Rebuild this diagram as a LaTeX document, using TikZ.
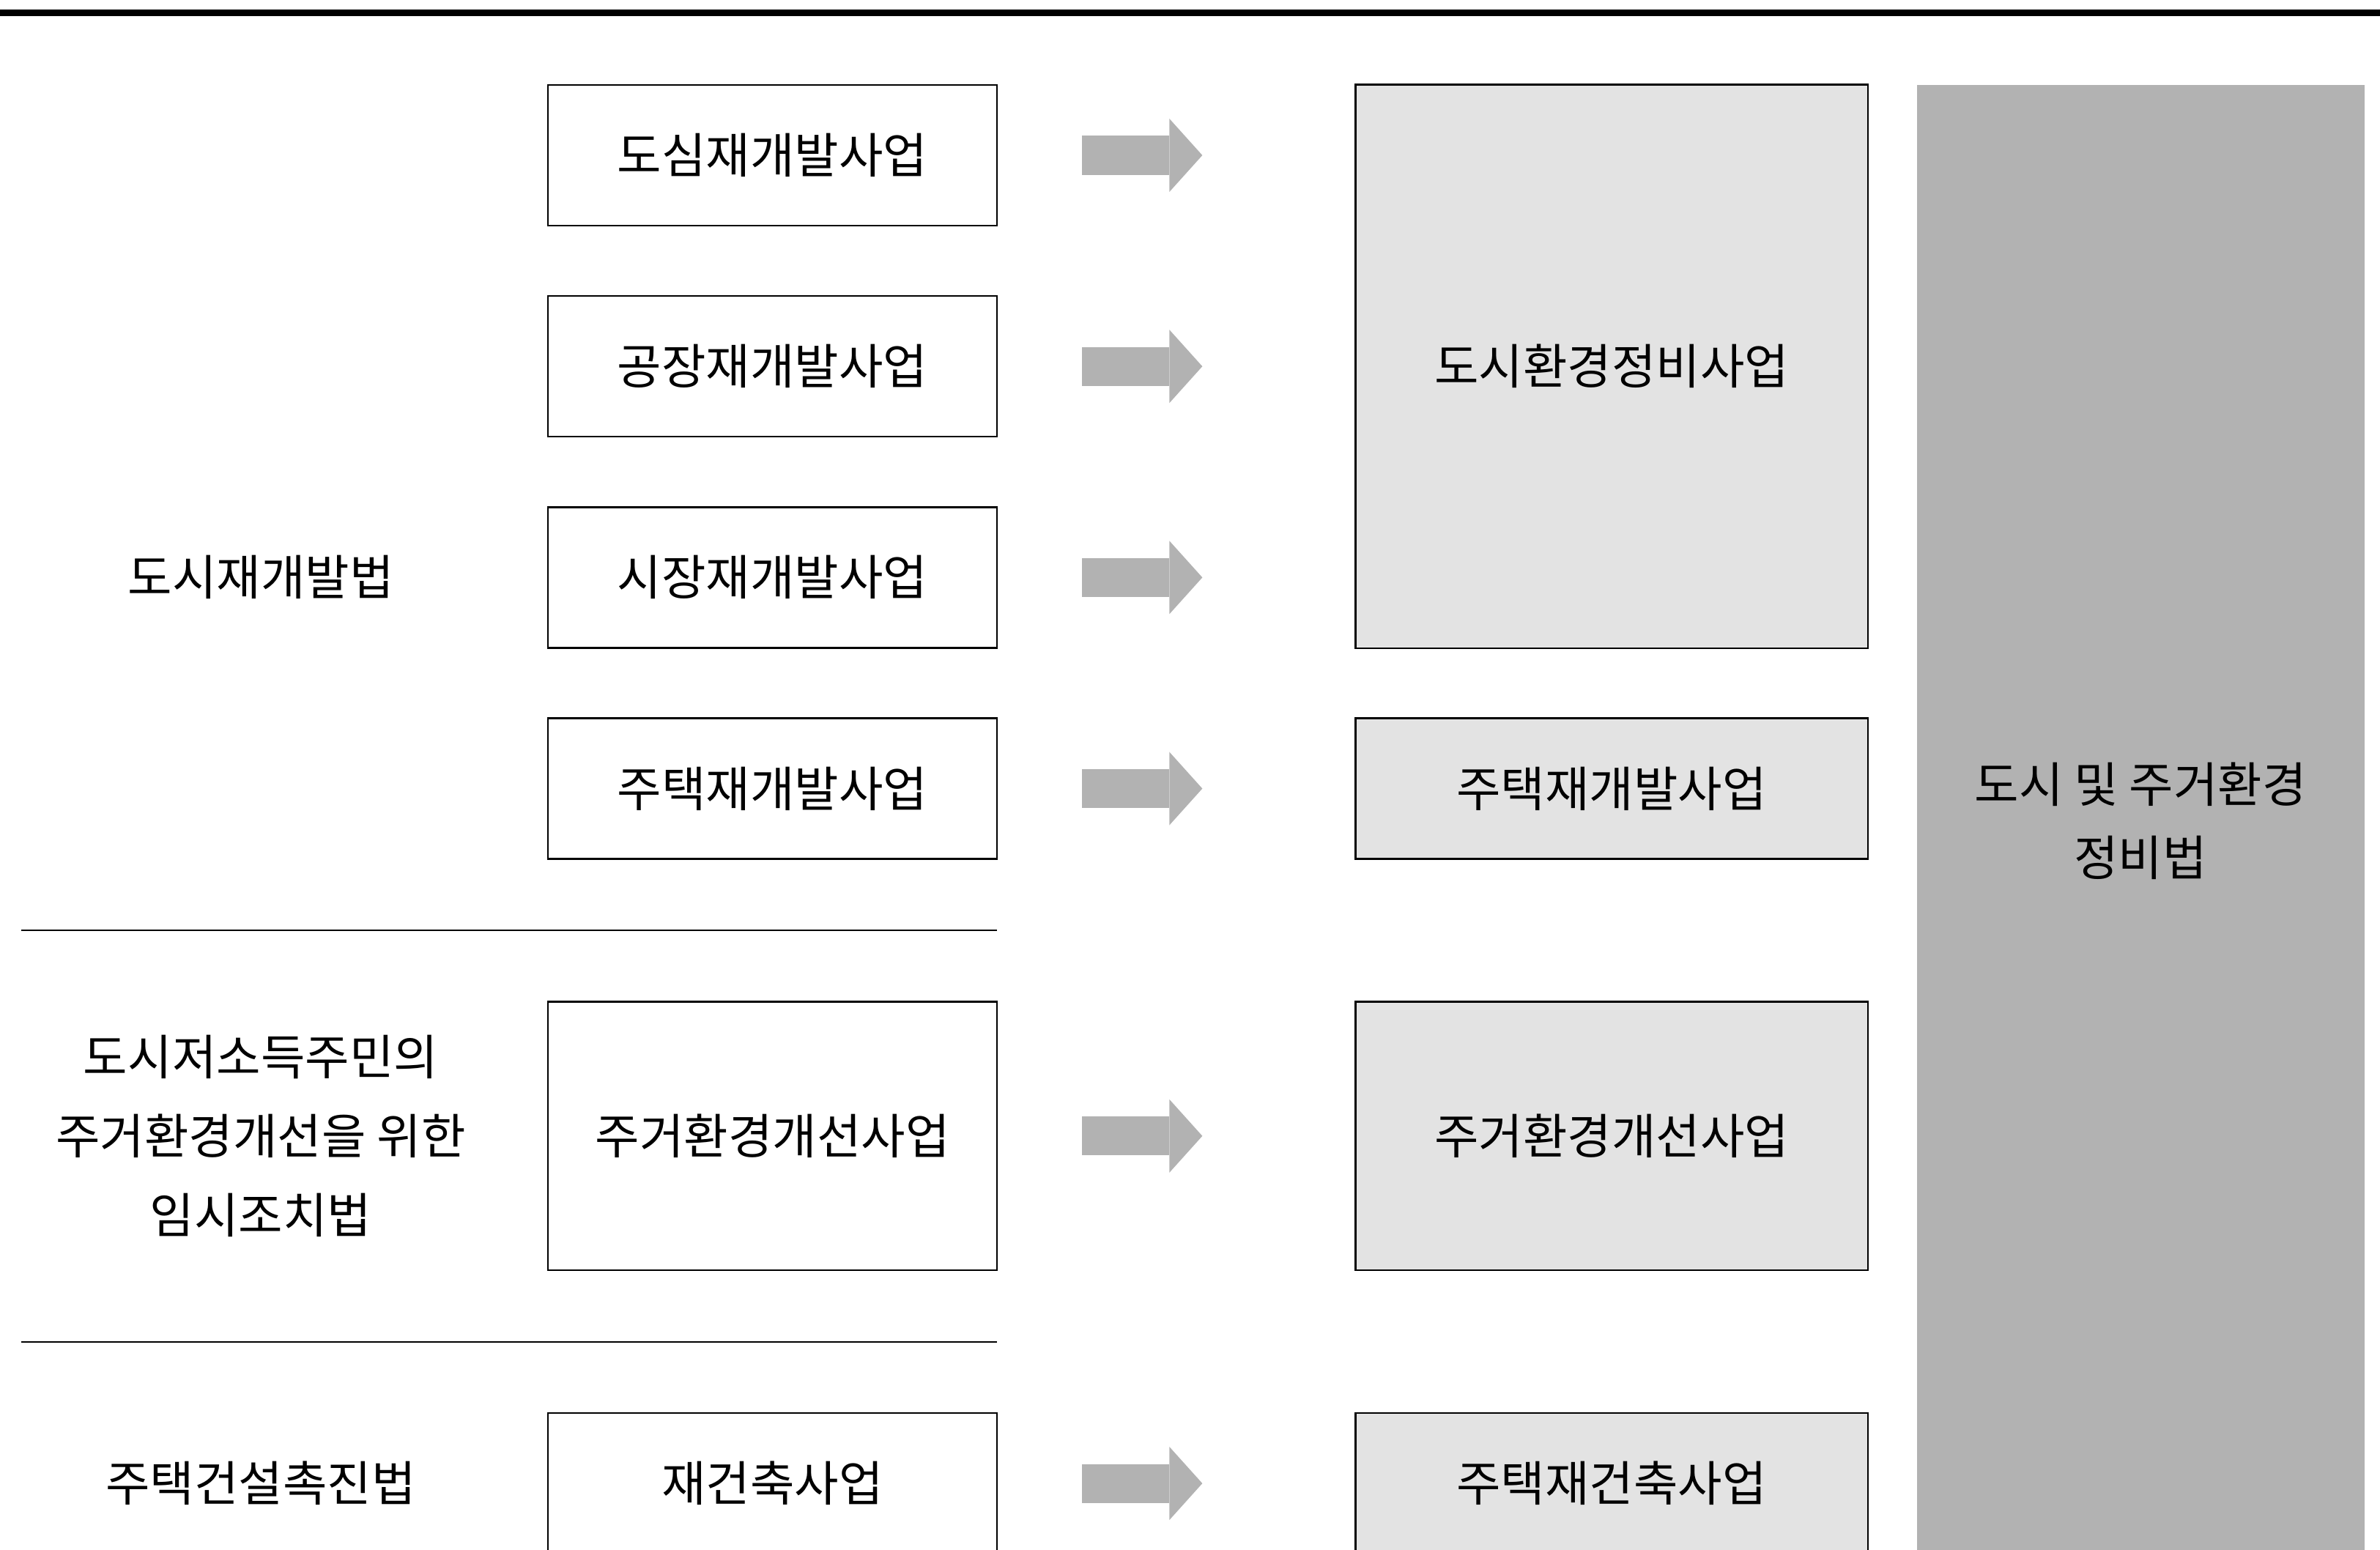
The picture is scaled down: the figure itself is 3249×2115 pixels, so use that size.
\documentclass[tikz,border=0pt]{standalone}
\usepackage{fontspec}
\setmainfont{Noto Sans CJK KR}
\usepackage{tikz}
\usetikzlibrary{arrows.meta, positioning}
\definecolor{lightfill}{RGB}{227, 227, 227}
\definecolor{darkfill}{RGB}{178, 178, 178}
\tikzstyle{oldbox} = [draw=black, line width=0.7pt, fill=white, minimum width=6.13cm, minimum height=1.92cm, inner sep=0pt, outer sep=0pt]
\tikzstyle{newbox} = [oldbox, fill=lightfill, minimum width=6.99cm]
\tikzstyle{fatarrow} = [draw=darkfill, line width=0.53cm, -{Triangle[length=0.45cm, width=1.0cm, line width=0pt]}, shorten <=1.16cm, shorten >=2.09cm]
\tikzstyle{rule} = [draw=black, line width=0.8pt]
\tikzstyle{lawlabel} = [align=center, inner sep=0pt]

\begin{document}
\begin{tikzpicture}[x=0.01cm, y=-0.01cm, node distance=0.96cm and 4.89cm, font=\fontsize{18.7pt}{30.6pt}\selectfont]
    \clip (0,0) rectangle (3249,2115);
    \draw [line width=0.09cm] (0,17.5) -- (3249,17.5);

    % old projects
    \node (b1) [oldbox] at (1054.5,212) {도심재개발사업};
    \node (b2) [oldbox, below=of b1] {공장재개발사업};
    \node (b3) [oldbox, below=of b2] {시장재개발사업};
    \node (b4) [oldbox, below=of b3] {주택재개발사업};
    \node (b5) [oldbox, minimum height=3.66cm, below=1.95cm of b4] {주거환경개선사업};
    \node (b6) [oldbox, below=1.95cm of b5] {재건축사업};

    % new projects
    \node (r1) [newbox, minimum height=7.69cm, right=of b2] {도시환경정비사업};
    \node (r2) [newbox, right=of b4] {주택재개발사업};
    \node (r3) [newbox, minimum height=3.66cm, right=of b5] {주거환경개선사업};
    \node (r4) [newbox, right=of b6] {주택재건축사업};

    \fill [darkfill] (2617,116) rectangle (3228,2200);
    \node (law) [lawlabel, font=\fontsize{18.7pt}{28.6pt}\selectfont] at (2922,1121) {도시 및 주거환경\\정비법};

    % old laws
    \coordinate (lawcol) at (356,0);
    \node (lawA) [lawlabel] at (b3 -| lawcol) {도시재개발법};
    \node (lawB) [lawlabel] at (b5 -| lawcol) {도시저소득주민의\\주거환경개선을 위한\\임시조치법};
    \node (lawC) [lawlabel] at (b6 -| lawcol) {주택건설촉진법};
    \draw [rule] (29,1270) -- (b4.east |- 0,1270);
    \draw [rule] (29,1832) -- (b5.east |- 0,1832);

    \draw [fatarrow] (b1.east) -- (b1.east -| r1.west);
    \draw [fatarrow] (b2.east) -- (b2.east -| r1.west);
    \draw [fatarrow] (b3.east) -- (b3.east -| r1.west);
    \draw [fatarrow] (b4.east) -- (r2.west);
    \draw [fatarrow] (b5.east) -- (r3.west);
    \draw [fatarrow] (b6.east) -- (r4.west);
\end{tikzpicture}
\end{document}
